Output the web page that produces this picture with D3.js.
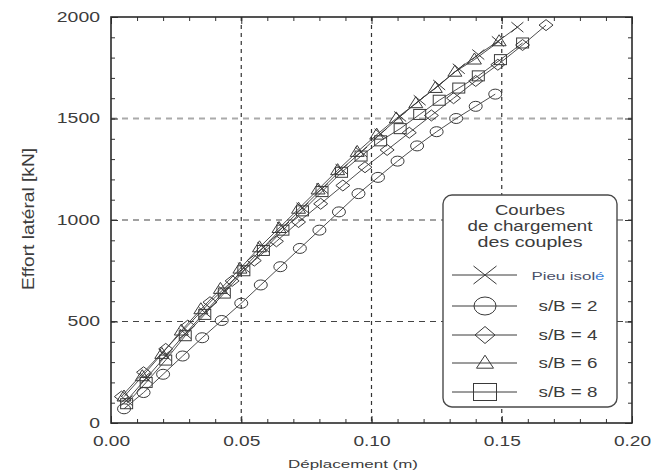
<!DOCTYPE html>
<html lang="fr">
<head>
  <meta charset="UTF-8">
  <script type="text/javascript" src="https://cdn.jsdelivr.net/npm/d3@7/dist/d3.min.js"></script>
  <title>Courbes de chargement</title>
  <style>
    body { margin: 0; background: #fff; }
    text {
      font-family: 'Liberation Sans', Arial, sans-serif;
      fill: #3c3c3c;
    }
    .tick line { stroke: #333; }
    .domain { display: none; }
  </style>
</head>
<body>
<div id="chart"></div>
<script>
  // ticks
  var xTicks = [0, 0.05, 0.10, 0.15, 0.20];
  var yTicks = [0, 500, 1000, 1500, 2000];
  var xTickLabels = ["0.00", "0.05", "0.10", "0.15", "0.20"];

  var seriesNames = ["Pieu isolé", "s/B = 2", "s/B = 4", "s/B = 6", "s/B = 8"];
  var seriesMarks = ["cross", "circle", "diamond", "triangle", "square"];

  // Pieu isolé
  var xIsole = [0.006, 0.0135, 0.021, 0.0285, 0.036, 0.0435, 0.051, 0.0585, 0.066, 0.0735, 0.081,
                0.0885, 0.096, 0.1035, 0.111, 0.1185, 0.126, 0.1335, 0.141, 0.1485, 0.156];
  var yIsole = [110, 220, 330, 440, 545, 650, 765, 865, 965, 1060, 1155,
                1250, 1335, 1425, 1510, 1590, 1665, 1745, 1815, 1880, 1950];
  // s/B = 2
  var xSB2 = [0.005, 0.0125, 0.02, 0.0275, 0.035, 0.0425, 0.05, 0.0575, 0.065, 0.0725,
              0.08, 0.0875, 0.095, 0.1025, 0.11, 0.1175, 0.125, 0.1325, 0.14, 0.1475];
  var ySB2 = [70, 150, 240, 330, 420, 505, 590, 680, 770, 860,
              950, 1040, 1130, 1210, 1290, 1365, 1435, 1500, 1560, 1620];
  // s/B = 4
  var xSB4 = [0.004, 0.0125, 0.021, 0.0295, 0.038, 0.0465, 0.055, 0.0635, 0.072, 0.0805,
              0.089, 0.0975, 0.106, 0.1145, 0.123, 0.1315, 0.140, 0.1485, 0.158, 0.167];
  var ySB4 = [130, 250, 365, 480, 595, 700, 800, 895, 990, 1080,
              1170, 1260, 1345, 1430, 1515, 1600, 1685, 1765, 1862, 1960];
  // s/B = 6
  var xSB6 = [0.005, 0.012, 0.0195, 0.027, 0.0345, 0.042, 0.0495, 0.057, 0.0645, 0.072,
              0.0795, 0.087, 0.0945, 0.102, 0.1095, 0.117, 0.1245, 0.132, 0.1395, 0.149];
  var ySB6 = [130, 230, 340, 455, 560, 660, 760, 865, 960, 1055,
              1150, 1245, 1335, 1420, 1500, 1575, 1650, 1730, 1790, 1880];
  // s/B = 8
  var xSB8 = [0.006, 0.0135, 0.021, 0.0285, 0.036, 0.0435, 0.051, 0.0585, 0.066, 0.0735, 0.081,
              0.0885, 0.096, 0.1035, 0.111, 0.1185, 0.126, 0.1335, 0.141, 0.1495, 0.158];
  var ySB8 = [95, 200, 310, 430, 535, 640, 750, 850, 950, 1045, 1140,
              1235, 1315, 1390, 1450, 1520, 1590, 1650, 1710, 1790, 1872];

  var pLeft = 111, pRight = 632, pTop = 17, pBottom = 423;

  var svg = d3.select("#chart")
    .append("svg")
    .attr("width", 653)
    .attr("height", 474);

  var x = d3.scaleLinear().domain([0, 0.2]).range([pLeft, pRight]);
  var y = d3.scaleLinear().domain([0, 2000]).range([pBottom, pTop]);

  // stretch text to the wide look of the original
  function widthOf(s, w) {
    var n = 0;
    for (var i = 0; i < s.length; i++) {
      n += (s[i] === "." || s[i] === " ") ? w * 0.45 : w;
    }
    return n;
  }

  // grid
  svg.selectAll(".gx")
    .data(xTicks.slice(1, 4))
    .enter().append("line")
    .attr("x1", function(d) { return x(d); })
    .attr("x2", function(d) { return x(d); })
    .attr("y1", pTop).attr("y2", pBottom)
    .style("stroke", "#333")
    .style("stroke-width", 1.2)
    .style("stroke-dasharray", "4,4");

  svg.selectAll(".gy")
    .data(yTicks.slice(1, 4))
    .enter().append("line")
    .attr("x1", pLeft).attr("x2", pRight)
    .attr("y1", function(d) { return y(d); })
    .attr("y2", function(d) { return y(d); })
    .style("stroke", function(d) { return d === 1500 ? "#aaa" : "#444"; })
    .style("stroke-width", function(d) { return d === 1500 ? 2 : 1.2; })
    .style("stroke-dasharray", "6,5");

  // minor ticks on all sides
  var xMinor = d3.range(0, 0.2001, 0.01);
  var yMinor = d3.range(0, 2001, 100);

  svg.append("g").attr("transform", "translate(0," + pBottom + ")")
    .call(d3.axisBottom(x).tickValues(xMinor).tickSize(-4).tickFormat(""));
  svg.append("g").attr("transform", "translate(0," + pTop + ")")
    .call(d3.axisTop(x).tickValues(xMinor).tickSize(-4).tickFormat(""));
  svg.append("g").attr("transform", "translate(" + pLeft + ",0)")
    .call(d3.axisLeft(y).tickValues(yMinor).tickSize(-4).tickFormat(""));
  svg.append("g").attr("transform", "translate(" + pRight + ",0)")
    .call(d3.axisRight(y).tickValues(yMinor).tickSize(-4).tickFormat(""));

  // major ticks + labels
  var xAxis = svg.append("g").attr("transform", "translate(0," + pBottom + ")")
    .call(d3.axisBottom(x).tickValues(xTicks).tickSize(-7).tickPadding(13)
      .tickFormat(function(d, i) { return xTickLabels[i]; }));
  xAxis.selectAll("text")
    .style("font-size", "14px")
    .attr("textLength", function(d, i) { return widthOf(xTickLabels[i], 10.8); })
    .attr("lengthAdjust", "spacingAndGlyphs");

  var yAxis = svg.append("g").attr("transform", "translate(" + pLeft + ",0)")
    .call(d3.axisLeft(y).tickValues(yTicks).tickSize(-7).tickPadding(11)
      .tickFormat(d3.format("d")));
  yAxis.selectAll("text")
    .style("font-size", "14px")
    .attr("textLength", function(d) { return widthOf(String(d), 10.8); })
    .attr("lengthAdjust", "spacingAndGlyphs");

  svg.append("g").attr("transform", "translate(0," + pTop + ")")
    .call(d3.axisTop(x).tickValues(xTicks).tickSize(-7).tickFormat(""));
  svg.append("g").attr("transform", "translate(" + pRight + ",0)")
    .call(d3.axisRight(y).tickValues(yTicks).tickSize(-7).tickFormat(""));

  // frame
  svg.append("rect")
    .attr("x", pLeft).attr("y", pTop)
    .attr("width", pRight - pLeft).attr("height", pBottom - pTop)
    .style("fill", "none")
    .style("stroke", "#2a2a2a")
    .style("stroke-width", 1.6);

  // markers
  var plotSize = { cross: [6, 5], circle: [6.5, 5], diamond: [7, 5.5], triangle: [7, 11], square: [6, 5] };
  var legSize = { cross: [11.5, 9], circle: [11, 9], diamond: [10, 8.5], triangle: [8.5, 13], square: [11.5, 8.5] };

  function marker(g, type, cx, cy, sz) {
    var a = sz[0], b = sz[1], m;
    if (type === "cross") {
      m = g.append("path").attr("d", "M" + (cx - a) + "," + (cy - b) + "L" + (cx + a) + "," + (cy + b) +
        "M" + (cx - a) + "," + (cy + b) + "L" + (cx + a) + "," + (cy - b));
    } else if (type === "circle") {
      m = g.append("ellipse").attr("cx", cx).attr("cy", cy).attr("rx", a).attr("ry", b);
    } else if (type === "diamond") {
      m = g.append("path").attr("d", "M" + (cx - a) + "," + cy + "L" + cx + "," + (cy - b) +
        "L" + (cx + a) + "," + cy + "L" + cx + "," + (cy + b) + "Z");
    } else if (type === "triangle") {
      m = g.append("path").attr("d", "M" + (cx - a) + "," + (cy + b * 0.4) + "L" + cx + "," + (cy - b * 0.6) +
        "L" + (cx + a) + "," + (cy + b * 0.4) + "Z");
    } else {
      m = g.append("rect").attr("x", cx - a).attr("y", cy - b).attr("width", 2 * a).attr("height", 2 * b);
    }
    m.style("fill", "none").style("stroke", "#3a3a3a").style("stroke-width", 1);
  }

  var allX = [xIsole, xSB2, xSB4, xSB6, xSB8];
  var allY = [yIsole, ySB2, ySB4, ySB6, ySB8];
  var order = [1, 2, 4, 3, 0];

  var line = d3.line()
    .x(function(d) { return x(d[0]); })
    .y(function(d) { return y(d[1]); });

  var plot = svg.append("g");
  order.forEach(function(k) {
    var pts = d3.zip(allX[k], allY[k]);
    plot.append("path")
      .datum(pts)
      .attr("d", line)
      .style("fill", "none")
      .style("stroke", "#3a3a3a")
      .style("stroke-width", 0.9);
    pts.forEach(function(p) {
      marker(plot, seriesMarks[k], x(p[0]), y(p[1]), plotSize[seriesMarks[k]]);
    });
  });

  // legend
  var leg = svg.append("g");
  leg.append("rect")
    .attr("x", 443).attr("y", 195)
    .attr("width", 174).attr("height", 212)
    .attr("rx", 9)
    .style("fill", "#fff")
    .style("stroke", "#4a4a4a")
    .style("stroke-width", 1.4);

  var legTitle = ["Courbes", "de chargement", "des couples"];
  var legTitleW = [70, 125, 105];
  leg.selectAll(".lt")
    .data(legTitle)
    .enter().append("text")
    .attr("x", 530)
    .attr("y", function(d, i) { return 215 + i * 16; })
    .attr("text-anchor", "middle")
    .style("font-size", "14px")
    .attr("textLength", function(d, i) { return legTitleW[i]; })
    .attr("lengthAdjust", "spacingAndGlyphs")
    .text(function(d) { return d; });

  var legY = [275, 306, 335, 363, 392];
  seriesNames.forEach(function(name, i) {
    leg.append("line")
      .attr("x1", 452).attr("x2", 517)
      .attr("y1", legY[i]).attr("y2", legY[i])
      .style("stroke", "#3a3a3a")
      .style("stroke-width", 1);
    marker(leg, seriesMarks[i], 485, legY[i], legSize[seriesMarks[i]]);
    var t = leg.append("text")
      .attr("x", 568)
      .attr("y", legY[i] + 5)
      .attr("text-anchor", "middle")
      .attr("lengthAdjust", "spacingAndGlyphs");
    if (i === 0) {
      t.style("font-size", "11px").attr("textLength", 73);
      t.append("tspan").style("fill", "#4a5068").text("Pieu isol");
      t.append("tspan").style("fill", "#3d7fd6").text("é");
    } else {
      t.style("font-size", "14px").attr("textLength", 59).text(name);
    }
  });

  // axis titles
  svg.append("text")
    .attr("transform", "translate(34,219) rotate(-90)")
    .attr("text-anchor", "middle")
    .style("font-size", "17px")
    .attr("textLength", 142)
    .attr("lengthAdjust", "spacingAndGlyphs")
    .text("Effort latéral [kN]");

  svg.append("text")
    .attr("x", 353)
    .attr("y", 468)
    .attr("text-anchor", "middle")
    .style("font-size", "11px")
    .attr("textLength", 130)
    .attr("lengthAdjust", "spacingAndGlyphs")
    .text("Déplacement (m)");
</script>
</body>
</html>
